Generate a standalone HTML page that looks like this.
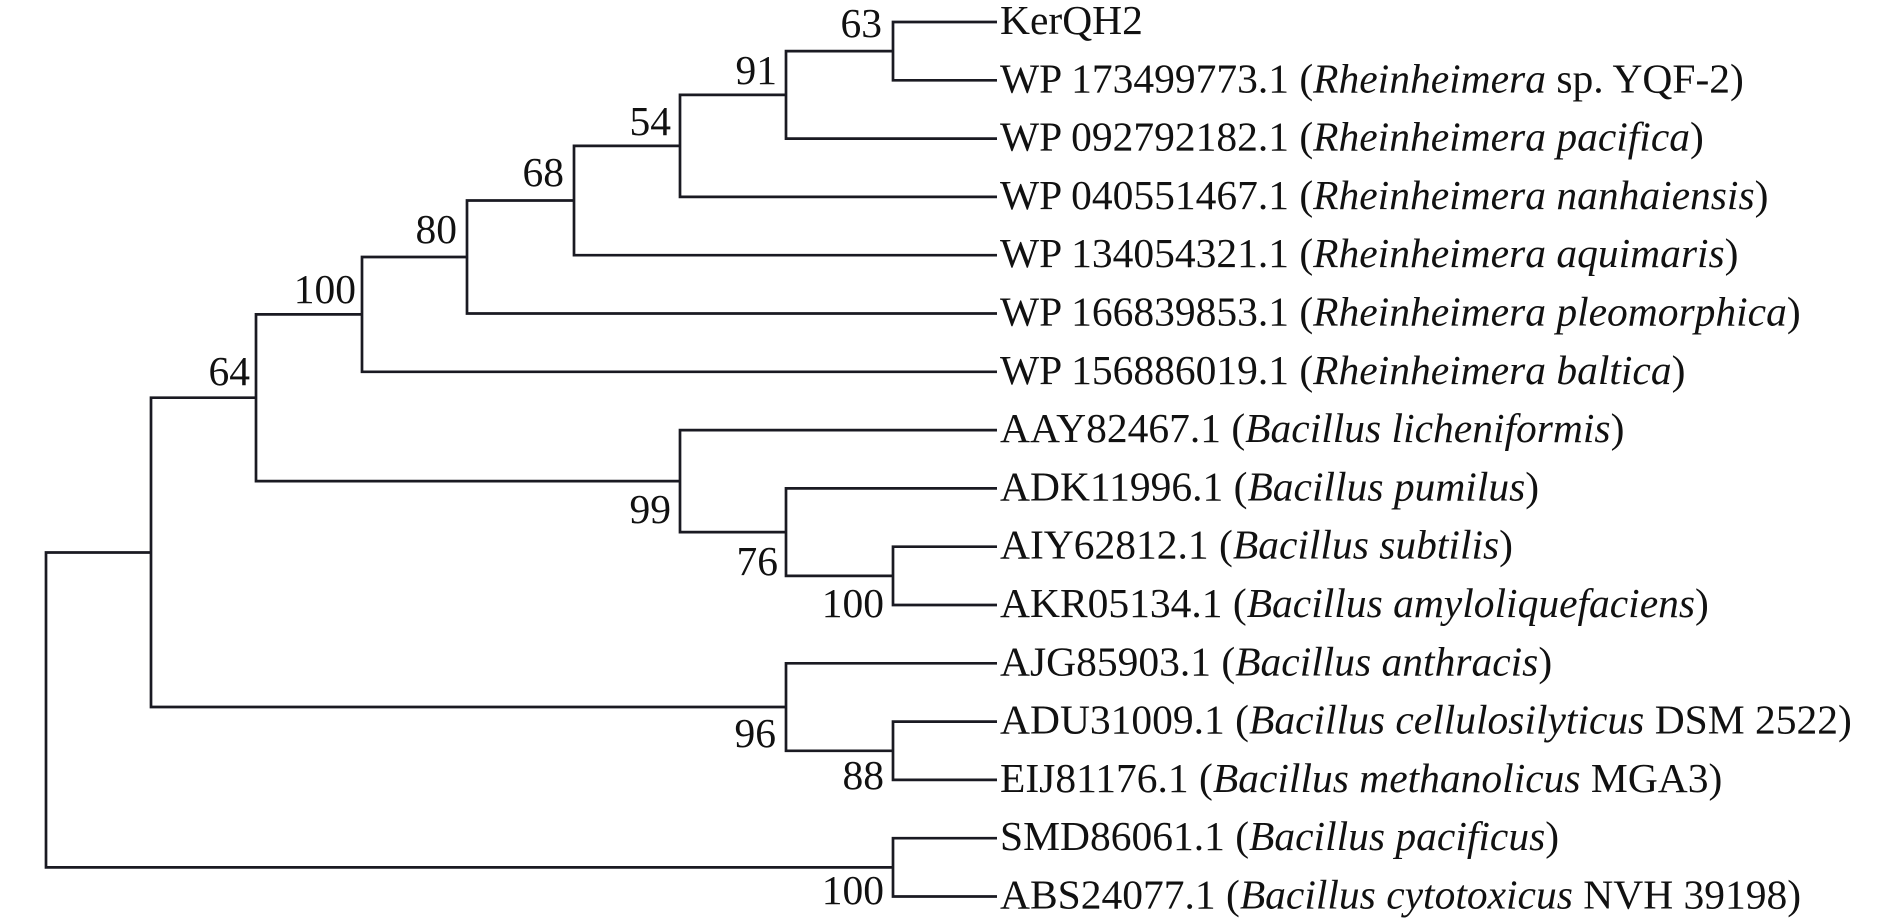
<!DOCTYPE html>
<html><head><meta charset="utf-8"><style>
html,body{margin:0;padding:0;background:#fff;}
svg{display:block;}
text{font-family:"Liberation Serif",serif;font-size:41.5px;fill:#111;}
</style></head><body>
<svg width="1890" height="922" viewBox="0 0 1890 922" xmlns="http://www.w3.org/2000/svg">
<g fill="none" stroke="#1a1a22" stroke-width="2.7">
<path d="M997 22 H893 V80.3 H997"/>
<path d="M893 51.15 H786 V138.6 H997"/>
<path d="M786 94.9 H680 V196.9 H997"/>
<path d="M680 145.9 H574 V255.2 H997"/>
<path d="M574 200.5 H467 V313.5 H997"/>
<path d="M467 257 H362 V371.8 H997"/>
<path d="M997 546.7 H893 V605 H997"/>
<path d="M997 488.4 H786 V575.9 H893"/>
<path d="M997 430.1 H680 V532.1 H786"/>
<path d="M362 314.4 H256 V481.1 H680"/>
<path d="M997 721.6 H893 V779.9 H997"/>
<path d="M997 663.3 H786 V750.8 H893"/>
<path d="M256 397.7 H151 V707 H786"/>
<path d="M997 838.2 H893 V896.5 H997"/>
<path d="M151 552.5 H46 V867.4 H893"/>
</g>
<g text-anchor="end">
<text x="882" y="37">63</text>
<text x="777" y="84">91</text>
<text x="671" y="135">54</text>
<text x="564" y="186">68</text>
<text x="457" y="243">80</text>
<text x="356" y="303">100</text>
<text x="250" y="385">64</text>
<text x="671" y="523">99</text>
<text x="778" y="575">76</text>
<text x="884" y="617">100</text>
<text x="776" y="747">96</text>
<text x="884" y="789">88</text>
<text x="884" y="904">100</text>
</g>
<g>
<text x="1000" y="34">KerQH2</text>
<text x="1000" y="92.3">WP 173499773.1 (<tspan font-style="italic">Rheinheimera</tspan> sp. YQF-2)</text>
<text x="1000" y="150.6">WP 092792182.1 (<tspan font-style="italic">Rheinheimera pacifica</tspan>)</text>
<text x="1000" y="208.9">WP 040551467.1 (<tspan font-style="italic">Rheinheimera nanhaiensis</tspan>)</text>
<text x="1000" y="267.2">WP 134054321.1 (<tspan font-style="italic">Rheinheimera aquimaris</tspan>)</text>
<text x="1000" y="325.5">WP 166839853.1 (<tspan font-style="italic">Rheinheimera pleomorphica</tspan>)</text>
<text x="1000" y="383.8">WP 156886019.1 (<tspan font-style="italic">Rheinheimera baltica</tspan>)</text>
<text x="1000" y="442.1">AAY82467.1 (<tspan font-style="italic">Bacillus licheniformis</tspan>)</text>
<text x="1000" y="500.4">ADK11996.1 (<tspan font-style="italic">Bacillus pumilus</tspan>)</text>
<text x="1000" y="558.7">AIY62812.1 (<tspan font-style="italic">Bacillus subtilis</tspan>)</text>
<text x="1000" y="617">AKR05134.1 (<tspan font-style="italic">Bacillus amyloliquefaciens</tspan>)</text>
<text x="1000" y="675.3">AJG85903.1 (<tspan font-style="italic">Bacillus anthracis</tspan>)</text>
<text x="1000" y="733.6">ADU31009.1 (<tspan font-style="italic">Bacillus cellulosilyticus</tspan> DSM 2522)</text>
<text x="1000" y="791.9">EIJ81176.1 (<tspan font-style="italic">Bacillus methanolicus</tspan> MGA3)</text>
<text x="1000" y="850.2">SMD86061.1 (<tspan font-style="italic">Bacillus pacificus</tspan>)</text>
<text x="1000" y="908.5">ABS24077.1 (<tspan font-style="italic">Bacillus cytotoxicus</tspan> NVH 39198)</text>
</g>
</svg>
</body></html>
